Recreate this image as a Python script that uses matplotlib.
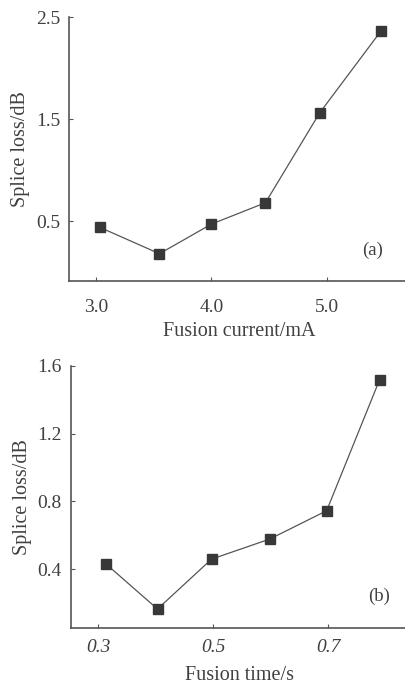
import matplotlib
matplotlib.use("Agg")
import matplotlib.pyplot as plt

plt.rcParams['font.family'] = ['Liberation Serif', 'DejaVu Serif']

# (a) fusion current vs splice loss
current = [3.03, 3.55, 4.0, 4.47, 4.94, 5.47]
loss_a = [0.44, 0.18, 0.47, 0.68, 1.56, 2.36]
ticks_a_x = [3.0, 4.0, 5.0]
ticks_a_y = [0.5, 1.5, 2.5]

# (b) fusion time vs splice loss
ftime = [0.314, 0.403, 0.497, 0.598, 0.697, 0.789]
loss_b = [0.43, 0.166, 0.46, 0.578, 0.745, 1.516]
ticks_b_x = [0.3, 0.5, 0.7]
ticks_b_y = [0.4, 0.8, 1.2, 1.6]

fig = plt.figure(figsize=(4.06, 6.86), dpi=100)
ax1 = fig.add_axes([0.170, 0.590, 0.83, 0.385])
ax2 = fig.add_axes([0.174, 0.0845, 0.826, 0.3825])

axcol = '#555555'
txtcol = '#404040'

def style(ax, xpad):
    for s in ['top', 'right']:
        ax.spines[s].set_visible(False)
    for s in ['left', 'bottom']:
        ax.spines[s].set_color(axcol)
        ax.spines[s].set_linewidth(1.2)
    ax.tick_params(direction='in', length=3, width=0.8, color=axcol,
                   labelcolor=txtcol, labelsize=14)
    ax.tick_params(axis='y', pad=6.5)
    ax.tick_params(axis='x', pad=xpad)

def labels(ax, xl, yl, xc, yc):
    ax.set_xlabel(xl, fontsize=14.5, color=txtcol)
    ax.set_ylabel(yl, fontsize=14.5, color=txtcol)
    ax.xaxis.set_label_coords(xc, yc)
    ax.xaxis.label.set_va('center')
    ax.yaxis.set_label_coords(-0.145, 0.5)
    ax.yaxis.label.set_va('center')

ax1.plot(current, loss_a, color='#555555', lw=0.9, marker='s', ms=6.8,
         mfc='#383838', mec='#383838')
ax1.set_xlim(2.765, 5.69)
ax1.set_ylim(-0.09, 2.5)
ax1.set_xticks(ticks_a_x)
ax1.set_xticklabels(['%.1f' % t for t in ticks_a_x])
ax1.set_yticks(ticks_a_y)
ax1.set_yticklabels(['%.1f' % t for t in ticks_a_y])
style(ax1, 13)
labels(ax1, 'Fusion current/mA', 'Splice loss/dB', 0.504, -0.19)
ax1.text(0.931, 0.117, '(a)', transform=ax1.transAxes, ha='right', va='center',
         fontsize=13.5, color=txtcol)

ax2.plot(ftime, loss_b, color='#555555', lw=0.9, marker='s', ms=6.8,
         mfc='#383838', mec='#383838')
ax2.set_xlim(0.252, 0.835)
ax2.set_ylim(0.054, 1.6)
ax2.set_xticks(ticks_b_x)
ax2.set_xticklabels(['%.1f' % t for t in ticks_b_x], style='italic')
ax2.set_yticks(ticks_b_y)
ax2.set_yticklabels(['%.1f' % t for t in ticks_b_y])
style(ax2, 8)
labels(ax2, 'Fusion time/s', 'Splice loss/dB', 0.505, -0.179)
ax2.text(0.952, 0.122, '(b)', transform=ax2.transAxes, ha='right', va='center',
         fontsize=13.5, color=txtcol)

fig.savefig('out.png', dpi=100)
